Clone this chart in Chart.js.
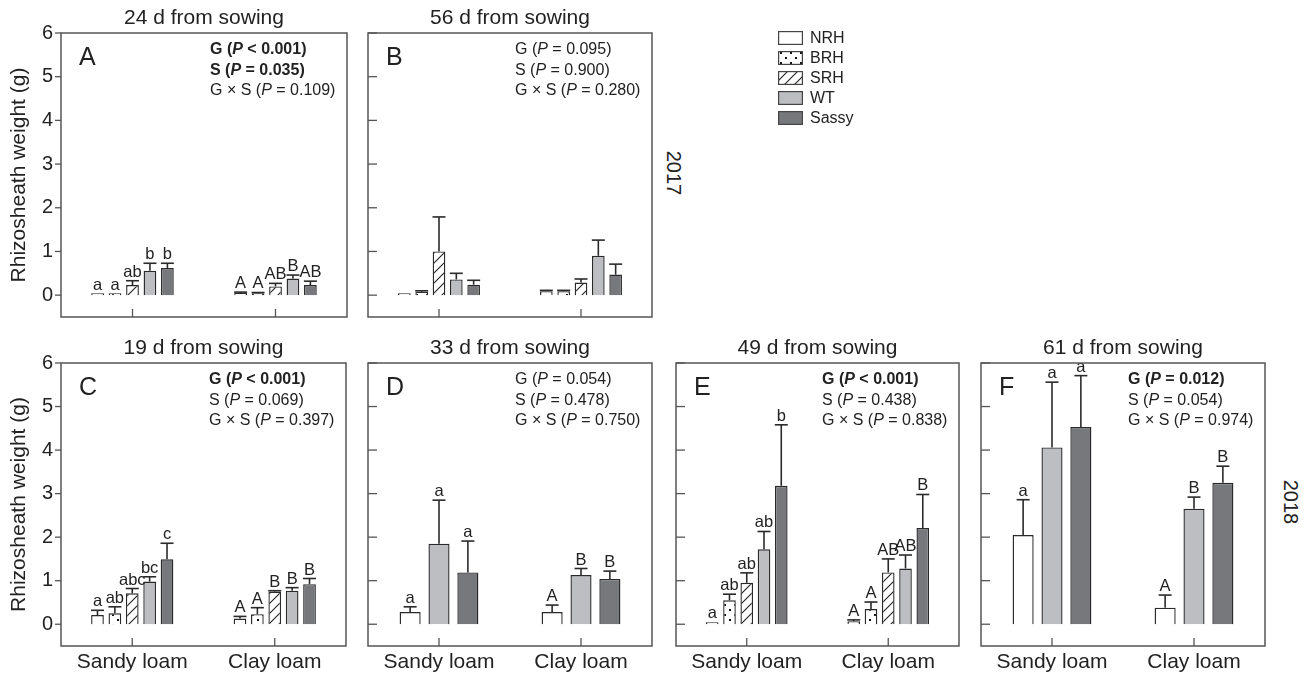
<!DOCTYPE html>
<html>
<head>
<meta charset="utf-8">
<script src="https://cdn.jsdelivr.net/npm/chart.js@4.4.1/dist/chart.umd.min.js"></script>
<style>
  body { margin: 0; background: #fff; width: 1313px; height: 676px; position: relative; overflow: hidden;
         font-family: "Liberation Sans", Arial, Helvetica, sans-serif; color: #222; }
  canvas.panel { position: absolute; }
  #legend { position: absolute; left: 778px; top: 28px; font-size: 16px; }
  #legend .row { height: 20px; display: flex; align-items: center; }
  #legend canvas { margin-right: 7px; }
  .year { position: absolute; font-size: 20px; transform: translate(-50%, -50%) rotate(90deg); white-space: nowrap; }
</style>
</head>
<body>
<div id="legend"></div>
<div class="year" style="left:673px; top:173px;">2017</div>
<div class="year" style="left:1290px; top:502px;">2018</div>
<script>
// Rhizosheath weight data
const genotypes = ['NRH', 'BRH', 'SRH', 'WT', 'Sassy'];
const threeGenotypes = ['NRH', 'WT', 'Sassy'];
const soils = ['Sandy loam', 'Clay loam'];
const yTicks = [0, 1, 2, 3, 4, 5, 6];
const yTitle = 'Rhizosheath weight (g)';

// rows follow the genotype list, columns follow soils (Sandy, Clay)
// A - 2017, 24 d
const meanA = [[0.01, 0.05], [0.01, 0.04], [0.23, 0.2], [0.56, 0.38], [0.62, 0.23]];
const errA = [[0, 0.02], [0, 0.02], [0.1, 0.07], [0.17, 0.08], [0.11, 0.09]];
const lettersA = [['a', 'A'], ['a', 'A'], ['ab', 'AB'], ['b', 'B'], ['b', 'AB']];
const statsA = [['G', '< 0.001', true], ['S', '= 0.035', true], ['G × S', '= 0.109', false]];

// B - 2017, 56 d
const meanB = [[0.005, 0.09], [0.08, 0.09], [1.0, 0.29], [0.36, 0.9], [0.24, 0.47]];
const errB = [[0, 0.02], [0.02, 0.02], [0.79, 0.08], [0.14, 0.36], [0.1, 0.24]];
const statsB = [['G', '= 0.095', false], ['S', '= 0.900', false], ['G × S', '= 0.280', false]];

// C - 2018, 19 d
const meanC = [[0.21, 0.13], [0.25, 0.23], [0.71, 0.75], [0.98, 0.77], [1.49, 0.92]];
const errC = [[0.11, 0.05], [0.15, 0.15], [0.11, 0.02], [0.11, 0.07], [0.37, 0.13]];
const lettersC = [['a', 'A'], ['ab', 'A'], ['abc', 'B'], ['bc', 'B'], ['c', 'B']];
const statsC = [['G', '< 0.001', true], ['S', '= 0.069', false], ['G × S', '= 0.397', false]];

// D - 2018, 33 d (NRH, WT, Sassy)
const meanD = [[0.28, 0.28], [1.85, 1.13], [1.19, 1.04]];
const errD = [[0.12, 0.16], [1.0, 0.15], [0.72, 0.18]];
const lettersD = [['a', 'A'], ['a', 'B'], ['a', 'B']];
const statsD = [['G', '= 0.054', false], ['S', '= 0.478', false], ['G × S', '= 0.750', false]];

// E - 2018, 49 d
const meanE = [[0.03, 0.07], [0.55, 0.35], [0.95, 1.19], [1.72, 1.28], [3.18, 2.21]];
const errE = [[0, 0.03], [0.14, 0.16], [0.23, 0.31], [0.41, 0.31], [1.4, 0.77]];
const lettersE = [['a', 'A'], ['ab', 'A'], ['ab', 'AB'], ['ab', 'AB'], ['b', 'B']];
const statsE = [['G', '< 0.001', true], ['S', '= 0.438', false], ['G × S', '= 0.838', false]];

// F - 2018, 61 d (NRH, WT, Sassy)
const meanF = [[2.05, 0.38], [4.06, 2.65], [4.53, 3.25]];
const errF = [[0.81, 0.29], [1.5, 0.27], [1.18, 0.38]];
const lettersF = [['a', 'A'], ['a', 'B'], ['a', 'B']];
const statsF = [['G', '= 0.012', true], ['S', '= 0.054', false], ['G × S', '= 0.974', false]];

const FAMILY = '"Liberation Sans", Arial, Helvetica, sans-serif';
Chart.defaults.font.family = FAMILY;
Chart.defaults.color = '#222';
Chart.defaults.animation = false;

// fills for each genotype
function tile(draw) {
    const c = document.createElement('canvas');
    c.width = 10; c.height = 10;
    const g = c.getContext('2d');
    g.fillStyle = '#fff';
    g.fillRect(0, 0, 10, 10);
    draw(g);
    return g.createPattern(c, 'repeat');
}
const fills = {
    NRH: '#ffffff',
    BRH: tile(g => {
        g.fillStyle = '#111';
        g.fillRect(2, 1, 2, 2);
        g.fillRect(7, 6, 2, 2);
    }),
    SRH: tile(g => {
        g.strokeStyle = '#222';
        g.lineWidth = 1.1;
        g.beginPath();
        g.moveTo(-1, 11); g.lineTo(11, -1);
        g.moveTo(-1, 1); g.lineTo(1, -1);
        g.moveTo(9, 11); g.lineTo(11, 9);
        g.stroke();
    }),
    WT: '#bdbec1',
    Sassy: '#77787b'
};

function line(ctx, x1, y1, x2, y2) {
    ctx.beginPath();
    ctx.moveTo(x1, y1);
    ctx.lineTo(x2, y2);
    ctx.stroke();
}

// box, ticks, error bars, letters and stats text
const decor = {
    id: 'decor',
    afterDraw(chart, args, o) {
        const { ctx, chartArea: a, scales: { x, y } } = chart;
        ctx.save();

        ctx.strokeStyle = '#2a2a2a';
        ctx.lineWidth = 1.6;
        ctx.fillStyle = '#222';
        ctx.font = '16.5px ' + FAMILY;
        ctx.textAlign = 'center';
        ctx.textBaseline = 'alphabetic';
        chart.data.datasets.forEach((ds, i) => {
            chart.getDatasetMeta(i).data.forEach((bar, j) => {
                const yBar = y.getPixelForValue(ds.data[j]);
                const yTop = y.getPixelForValue(ds.data[j] + ds.err[j]);
                if (ds.err[j] > 0) {
                    line(ctx, bar.x, yBar, bar.x, yTop);
                    line(ctx, bar.x - 6.5, yTop, bar.x + 6.5, yTop);
                }
                if (ds.letters) ctx.fillText(ds.letters[j], bar.x, Math.min(yTop, yBar - 1) - 4);
            });
        });

        ctx.strokeStyle = '#555';
        ctx.lineWidth = 1.5;
        ctx.strokeRect(a.left, a.top, a.right - a.left, a.bottom - a.top);

        ctx.lineWidth = 1.3;
        y.ticks.forEach(t => {
            const py = y.getPixelForValue(t.value);
            if (o.yLabels) line(ctx, a.left - 6, py, a.left, py);
            else line(ctx, a.left, py, a.left + 9, py);
        });
        x.ticks.forEach((t, k) => {
            const px = x.getPixelForTick(k);
            line(ctx, px, a.bottom, px, a.bottom - 8);
        });

        ctx.textAlign = 'left';
        ctx.textBaseline = 'middle';
        ctx.font = '25px ' + FAMILY;
        ctx.fillText(o.letter, a.left + 18, a.top + 25);

        let ty = a.top + 17;
        o.stats.forEach(([pre, rest, bold]) => {
            const w = bold ? 'bold ' : '';
            let tx = a.right - 137;
            [[pre + ' (', w], ['P', 'italic ' + w], [' ' + rest + ')', w]].forEach(([s, f]) => {
                ctx.font = f + '16px ' + FAMILY;
                ctx.fillText(s, tx, ty);
                tx += ctx.measureText(s).width;
            });
            ty += 20.5;
        });
        ctx.restore();
    }
};

function drawPanel(p) {
    const yw = p.yLabels ? 61 : 4;
    const top = 30;
    const xh = p.xLabels ? 30 : 20;
    const canvas = document.createElement('canvas');
    canvas.className = 'panel';
    canvas.width = yw + p.box[2] + 2;
    canvas.height = top + p.box[3] + xh;
    canvas.style.width = canvas.width + 'px';
    canvas.style.height = canvas.height + 'px';
    canvas.style.left = (p.box[0] - yw) + 'px';
    canvas.style.top = (p.box[1] - top) + 'px';
    document.body.appendChild(canvas);

    const datasets = p.names.map((g, i) => ({
        label: g,
        data: p.mean[i],
        err: p.err[i],
        letters: p.letters ? p.letters[i] : null,
        backgroundColor: fills[g],
        borderColor: '#2a2a2a',
        borderWidth: 1.4,
        minBarLength: 2,
        categoryPercentage: 0.61,
        barPercentage: 0.73
    }));

    new Chart(canvas, {
        type: 'bar',
        data: { labels: soils, datasets },
        options: {
            responsive: false,
            layout: { padding: { left: 0, right: 2, top: 0, bottom: 0 } },
            plugins: {
                legend: { display: false },
                tooltip: { enabled: false },
                title: {
                    display: true,
                    fullSize: false,
                    text: p.title,
                    color: '#222',
                    font: { size: 21, weight: 'normal', lineHeight: 1 },
                    padding: { top: 5, bottom: 4 }
                },
                decor: { letter: p.letter, stats: p.stats, yLabels: p.yLabels }
            },
            scales: {
                x: {
                    grid: { display: false, drawTicks: false },
                    border: { display: false },
                    ticks: { display: p.xLabels, padding: 4, color: '#222', font: { size: 21 } },
                    afterFit: s => { s.height = xh; }
                },
                y: {
                    min: -0.5,
                    max: 6,
                    grid: { display: false, drawTicks: false },
                    border: { display: false },
                    afterBuildTicks: s => { s.ticks = yTicks.map(v => ({ value: v })); },
                    ticks: { display: p.yLabels, padding: 8, color: '#222', font: { size: 20 } },
                    title: {
                        display: p.yLabels,
                        text: yTitle,
                        color: '#222',
                        font: { size: 21, lineHeight: 1.2 },
                        padding: { top: 7, bottom: 0 }
                    },
                    afterFit: s => { s.width = yw; }
                }
            }
        },
        plugins: [decor]
    });
}

const panels = [
    { letter: 'A', title: '24 d from sowing', box: [61, 33, 286, 284], names: genotypes, mean: meanA, err: errA, letters: lettersA, stats: statsA, yLabels: true, xLabels: false },
    { letter: 'B', title: '56 d from sowing', box: [368, 33, 284, 284], names: genotypes, mean: meanB, err: errB, letters: null, stats: statsB, yLabels: false, xLabels: false },
    { letter: 'C', title: '19 d from sowing', box: [61, 363, 285, 283], names: genotypes, mean: meanC, err: errC, letters: lettersC, stats: statsC, yLabels: true, xLabels: true },
    { letter: 'D', title: '33 d from sowing', box: [368, 363, 284, 283], names: threeGenotypes, mean: meanD, err: errD, letters: lettersD, stats: statsD, yLabels: false, xLabels: true },
    { letter: 'E', title: '49 d from sowing', box: [676, 363, 283, 283], names: genotypes, mean: meanE, err: errE, letters: lettersE, stats: statsE, yLabels: false, xLabels: true },
    { letter: 'F', title: '61 d from sowing', box: [981, 363, 284, 283], names: threeGenotypes, mean: meanF, err: errF, letters: lettersF, stats: statsF, yLabels: false, xLabels: true }
];
panels.forEach(drawPanel);

// Legend
const legend = document.getElementById('legend');
genotypes.forEach(g => {
    const row = document.createElement('div');
    row.className = 'row';
    const sw = document.createElement('canvas');
    sw.width = 25; sw.height = 14;
    const c = sw.getContext('2d');
    c.fillStyle = fills[g];
    c.fillRect(0, 0, 25, 14);
    c.strokeStyle = '#444';
    c.lineWidth = 1.2;
    c.strokeRect(0.6, 0.6, 23.8, 12.8);
    const label = document.createElement('span');
    label.textContent = g;
    row.appendChild(sw);
    row.appendChild(label);
    legend.appendChild(row);
});
</script>
</body>
</html>
